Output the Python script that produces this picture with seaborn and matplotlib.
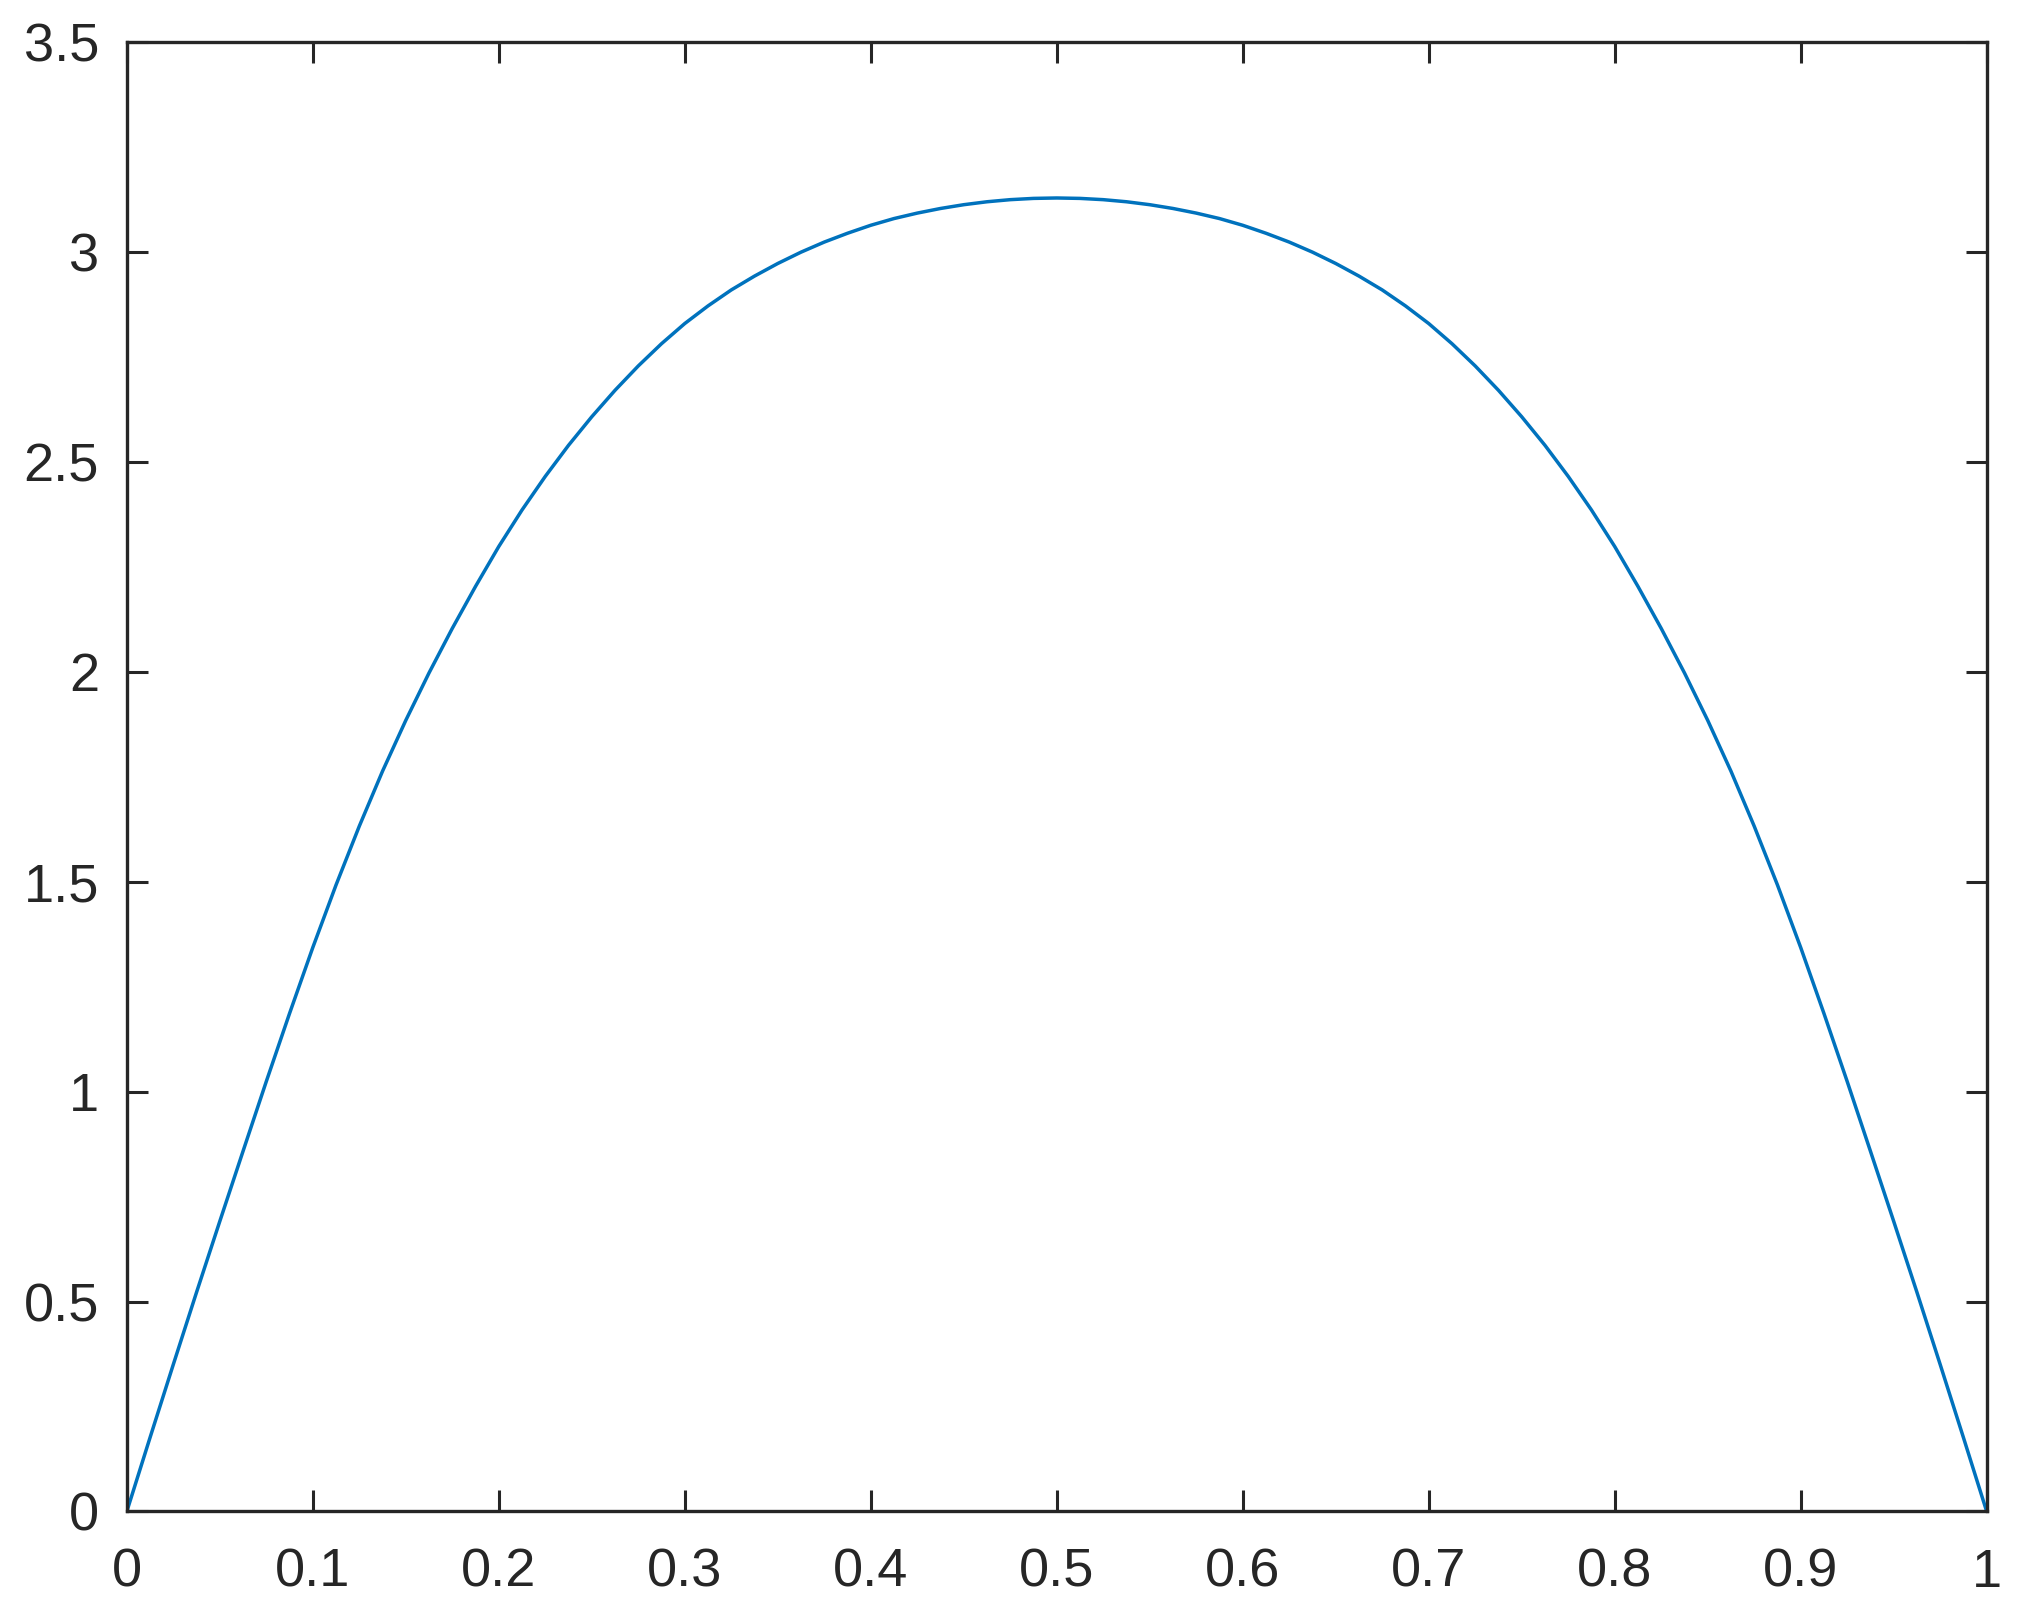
import matplotlib
matplotlib.use("Agg")
import matplotlib.pyplot as plt
import seaborn as sns
import pandas as pd

# Curve values (x step 0.0125)
x_vals = [0.0000, 0.0125, 0.0250, 0.0375, 0.0500, 0.0625, 0.0750, 0.0875, 0.1000, 0.1125,
          0.1250, 0.1375, 0.1500, 0.1625, 0.1750, 0.1875, 0.2000, 0.2125, 0.2250, 0.2375,
          0.2500, 0.2625, 0.2750, 0.2875, 0.3000, 0.3125, 0.3250, 0.3375, 0.3500, 0.3625,
          0.3750, 0.3875, 0.4000, 0.4125, 0.4250, 0.4375, 0.4500, 0.4625, 0.4750, 0.4875,
          0.5000,
          0.5125, 0.5250, 0.5375, 0.5500, 0.5625, 0.5750, 0.5875, 0.6000, 0.6125, 0.6250,
          0.6375, 0.6500, 0.6625, 0.6750, 0.6875, 0.7000, 0.7125, 0.7250, 0.7375, 0.7500,
          0.7625, 0.7750, 0.7875, 0.8000, 0.8125, 0.8250, 0.8375, 0.8500, 0.8625, 0.8750,
          0.8875, 0.9000, 0.9125, 0.9250, 0.9375, 0.9500, 0.9625, 0.9750, 0.9875, 1.0000]
y_vals = [0.000, 0.176, 0.350, 0.522, 0.691, 0.858, 1.024, 1.186, 1.343, 1.492,
          1.632, 1.763, 1.884, 1.997, 2.103, 2.203, 2.298, 2.385, 2.465, 2.539,
          2.607, 2.670, 2.728, 2.781, 2.829, 2.871, 2.909, 2.942, 2.972, 2.999,
          3.023, 3.044, 3.063, 3.079, 3.092, 3.103, 3.112, 3.119, 3.124, 3.127,
          3.128,
          3.127, 3.124, 3.119, 3.112, 3.103, 3.092, 3.079, 3.063, 3.044, 3.023,
          2.999, 2.972, 2.942, 2.909, 2.871, 2.829, 2.781, 2.728, 2.670, 2.607,
          2.539, 2.465, 2.385, 2.298, 2.203, 2.103, 1.997, 1.884, 1.763, 1.632,
          1.492, 1.343, 1.186, 1.024, 0.858, 0.691, 0.522, 0.350, 0.176, 0.000]

x_ticks = [0, 0.1, 0.2, 0.3, 0.4, 0.5, 0.6, 0.7, 0.8, 0.9, 1]
x_tick_labels = ["0", "0.1", "0.2", "0.3", "0.4", "0.5", "0.6", "0.7", "0.8", "0.9", "1"]
y_ticks = [0, 0.5, 1, 1.5, 2, 2.5, 3, 3.5]
y_tick_labels = ["0", "0.5", "1", "1.5", "2", "2.5", "3", "3.5"]

sns.set_theme(style="white")
plt.rcParams['font.family'] = ['Liberation Sans', 'DejaVu Sans']

axis_color = "#262626"
line_color = "#0072BD"

fig = plt.figure(figsize=(20.19, 16.19), dpi=100)
ax = fig.add_axes([0.0628, 0.0664, 0.9212, 0.9078])

df = pd.DataFrame({"x": x_vals, "y": y_vals})
sns.lineplot(data=df, x="x", y="y", ax=ax, color=line_color, linewidth=2.5, sort=False)

ax.set_xlim(0, 1)
ax.set_ylim(0, 3.5)
ax.set_xticks(x_ticks)
ax.set_xticklabels(x_tick_labels)
ax.set_yticks(y_ticks)
ax.set_yticklabels(y_tick_labels)
ax.set_xlabel("")
ax.set_ylabel("")

for s in ax.spines.values():
    s.set_visible(True)
    s.set_color(axis_color)
    s.set_linewidth(2.4)

ax.tick_params(axis="both", which="both", direction="in", length=15, width=2.2,
               color=axis_color, labelcolor=axis_color, labelsize=39,
               top=True, right=True, bottom=True, left=True)
ax.tick_params(axis="x", pad=26)
ax.tick_params(axis="y", pad=20)
ax.grid(False)
ax.set_facecolor("white")
fig.patch.set_facecolor("white")

fig.savefig("out.png", dpi=100, facecolor="white")
